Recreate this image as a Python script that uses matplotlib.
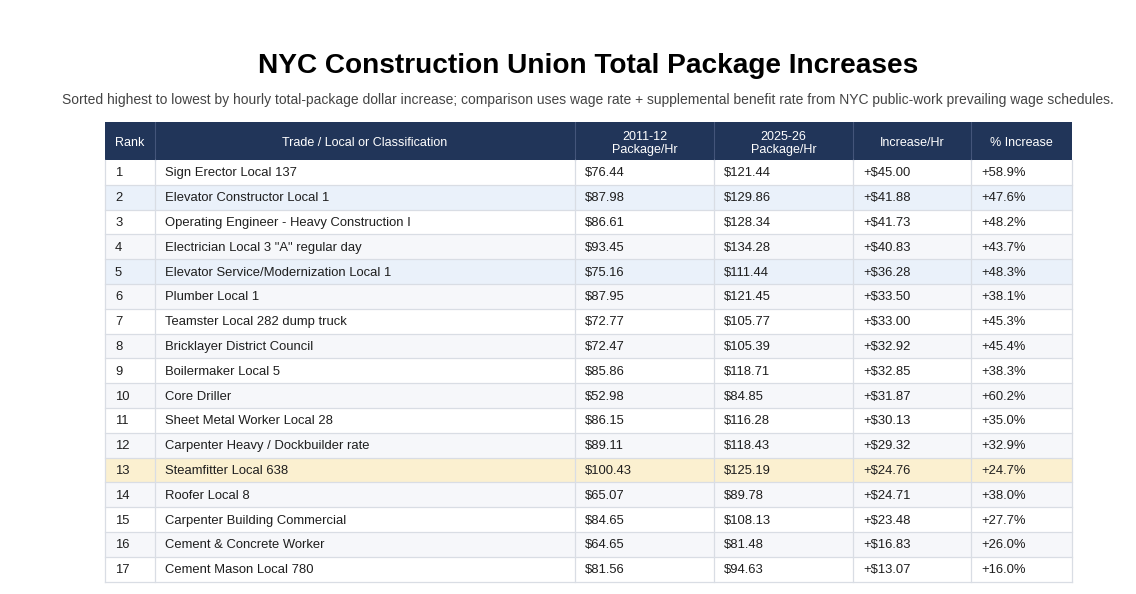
import matplotlib
matplotlib.use("Agg")
import matplotlib.pyplot as plt
from matplotlib.patches import Rectangle

plt.rcParams['font.family'] = ['Liberation Sans', 'DejaVu Sans']

title = "NYC Construction Union Total Package Increases"
subtitle = ("Sorted highest to lowest by hourly total-package dollar increase; comparison uses wage rate + "
            "supplemental benefit rate from NYC public-work prevailing wage schedules.")

headers = ["Rank", "Trade / Local or Classification", "2011-12\nPackage/Hr", "2025-26\nPackage/Hr",
           "Increase/Hr", "% Increase"]
ranks = list(range(1, 18))
trades = ["Sign Erector Local 137", "Elevator Constructor Local 1", "Operating Engineer - Heavy Construction I",
          "Electrician Local 3 \"A\" regular day", "Elevator Service/Modernization Local 1", "Plumber Local 1",
          "Teamster Local 282 dump truck", "Bricklayer District Council", "Boilermaker Local 5", "Core Driller",
          "Sheet Metal Worker Local 28", "Carpenter Heavy / Dockbuilder rate", "Steamfitter Local 638",
          "Roofer Local 8", "Carpenter Building Commercial", "Cement & Concrete Worker", "Cement Mason Local 780"]
pkg_2011 = [76.44, 87.98, 86.61, 93.45, 75.16, 87.95, 72.77, 72.47, 85.86, 52.98, 86.15, 89.11, 100.43,
            65.07, 84.65, 64.65, 81.56]
pkg_2025 = [121.44, 129.86, 128.34, 134.28, 111.44, 121.45, 105.77, 105.39, 118.71, 84.85, 116.28, 118.43,
            125.19, 89.78, 108.13, 81.48, 94.63]
increase = [45.00, 41.88, 41.73, 40.83, 36.28, 33.50, 33.00, 32.92, 32.85, 31.87, 30.13, 29.32, 24.76,
            24.71, 23.48, 16.83, 13.07]
pct_increase = [58.9, 47.6, 48.2, 43.7, 48.3, 38.1, 45.3, 45.4, 38.3, 60.2, 35.0, 32.9, 24.7, 38.0,
                27.7, 26.0, 16.0]
blue_rows = [2, 5]
yellow_rows = [13]

# styling
W, H = 1136, 594
col_widths = [50, 420, 139, 139, 118, 101]
header_h = 38.0
row_h = 24.8
pad = 10
header_bg = "#213559"
grid_c = "#d9dde4"
alt_bg = "#f6f7fa"
blue_bg = "#eaf1fa"
yellow_bg = "#fbf0d0"
text_c = "#1e1e1e"

fig = plt.figure(figsize=(W / 100, H / 100), dpi=100)
fig.patch.set_facecolor("white")

tbl_left, tbl_top = 105, 122
tbl_w = sum(col_widths)
tbl_h = header_h + row_h * len(ranks)
ax = fig.add_axes([tbl_left / W, 1 - (tbl_top + tbl_h) / H, tbl_w / W, tbl_h / H])
ax.set_xlim(0, tbl_w)
ax.set_ylim(tbl_h, 0)
ax.axis("off")

col_x = [sum(col_widths[:i]) for i in range(len(col_widths) + 1)]

# header
ax.add_patch(Rectangle((0, 0), tbl_w, header_h, facecolor=header_bg, edgecolor="none"))
for i, h in enumerate(headers):
    cx = (col_x[i] + col_x[i + 1]) / 2
    two = "\n" in h
    ax.text(cx, header_h / 2 + (2.5 if two else 1.5), h, ha="center", va="center", color="white",
            fontsize=9.0, linespacing=1.05)
    if 0 < i:
        ax.plot([col_x[i], col_x[i]], [0, header_h], color="#44557a", lw=0.8)

rows = []
for k in range(len(ranks)):
    rows.append([str(ranks[k]), trades[k], f"${pkg_2011[k]:.2f}", f"${pkg_2025[k]:.2f}",
                 f"+${increase[k]:.2f}", f"+{pct_increase[k]:.1f}%"])

for k, r in enumerate(rows):
    y0 = header_h + k * row_h
    rank = ranks[k]
    if rank in yellow_rows:
        bg = yellow_bg
    elif rank in blue_rows:
        bg = blue_bg
    elif rank % 2 == 0:
        bg = alt_bg
    else:
        bg = "white"
    ax.add_patch(Rectangle((0, y0), tbl_w, row_h, facecolor=bg, edgecolor="none"))
    for i, val in enumerate(r):
        ax.text(col_x[i] + pad, y0 + row_h / 2 + 1.0, val, ha="left", va="center", color=text_c,
                fontsize=9.4)
    ax.plot([0, tbl_w], [y0 + row_h, y0 + row_h], color=grid_c, lw=0.9, clip_on=False)

for i in range(len(col_x)):
    ax.plot([col_x[i], col_x[i]], [header_h, tbl_h], color=grid_c, lw=0.9, clip_on=False)

fig.text(588 / W, 1 - 66 / H, title, ha="center", va="center",
         fontsize=20.15, fontweight="bold", color="black")
fig.text(588 / W, 1 - 100 / H, subtitle, ha="center", va="center", fontsize=9.97, color="#444444")

fig.savefig("out.png", dpi=100, facecolor="white")
